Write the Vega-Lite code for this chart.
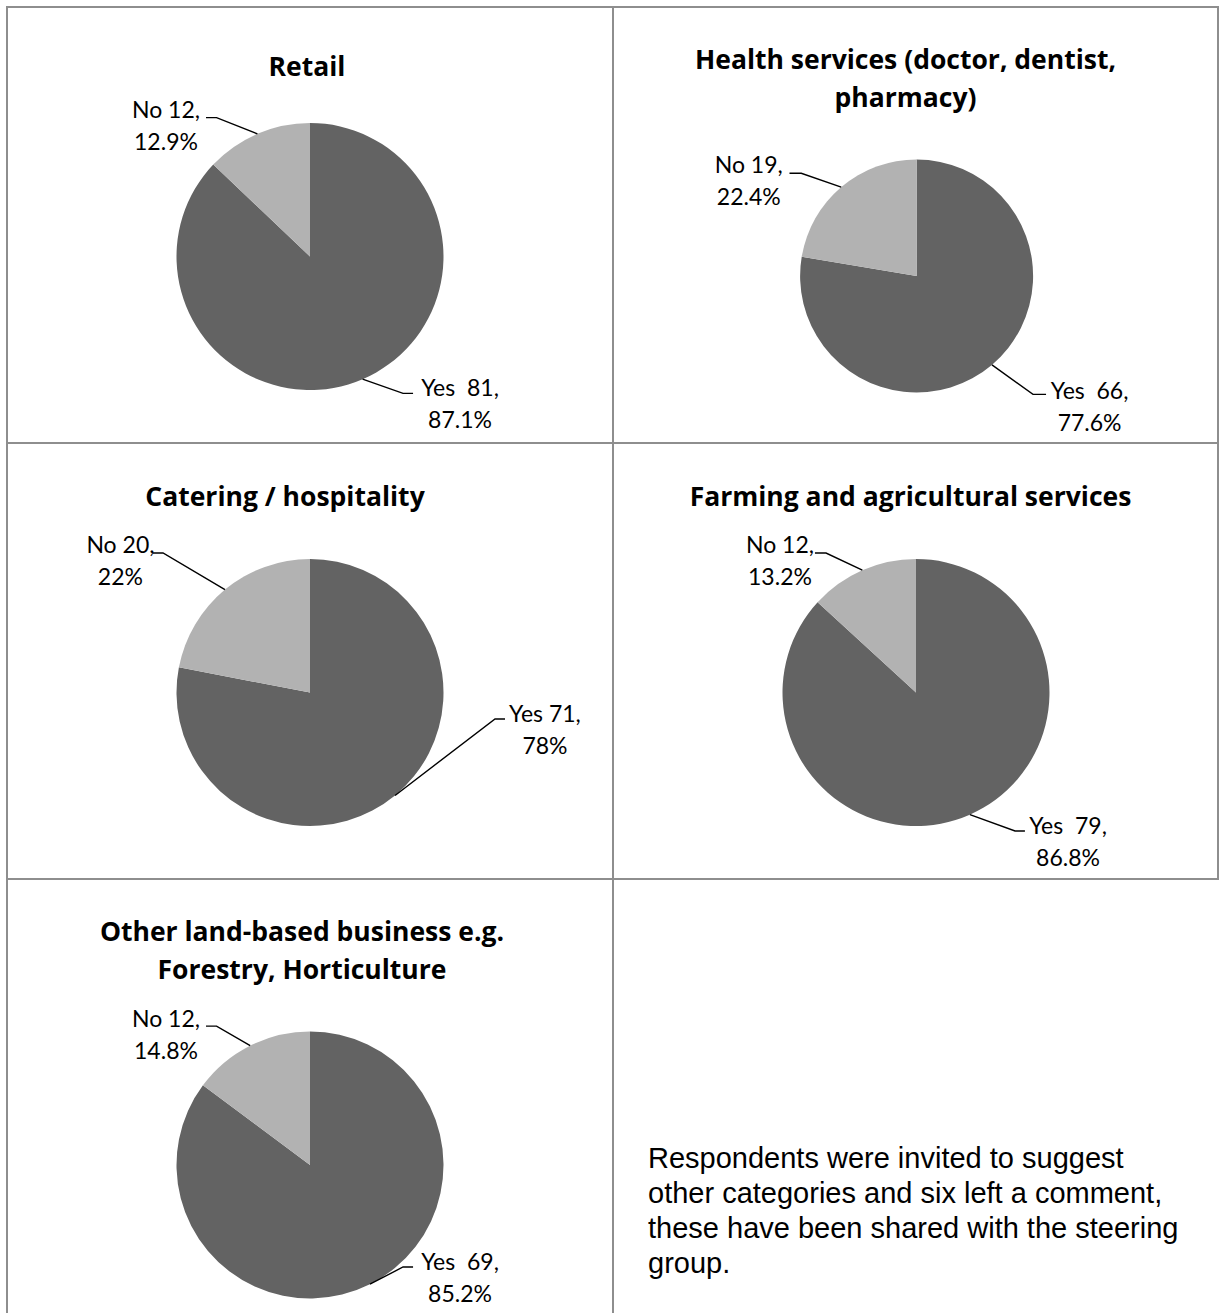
{
  "$schema": "https://vega.github.io/schema/vega-lite/v6.json",
  "padding": {"left": 6, "top": 6, "right": 0, "bottom": -3},
  "background": "white",
  "bounds": "flush",
  "spacing": 0,
  "columns": 2,
  "config": {
    "view": {"stroke": "#8e8e8e", "strokeWidth": 2},
    "concat": {"spacing": 0},
    "title": {"font": "Open Sans", "fontSize": 26.5, "fontWeight": "bold", "color": "#000000", "lineHeight": 38, "anchor": "middle", "frame": "group"},
    "text": {"font": "Lato", "fontSize": 23, "lineHeight": 32, "color": "#000000", "lineBreak": "\n", "align": "center", "baseline": "alphabetic"},
    "line": {"color": "#000000", "strokeWidth": 1.4},
    "arc": {"stroke": null}
  },
  "datasets": {
    "slices": [
      {"chart": "Retail", "answer": "Yes", "count": 81},
      {"chart": "Retail", "answer": "No", "count": 12},
      {"chart": "Health", "answer": "Yes", "count": 66},
      {"chart": "Health", "answer": "No", "count": 19},
      {"chart": "Catering", "answer": "Yes", "count": 71},
      {"chart": "Catering", "answer": "No", "count": 20},
      {"chart": "Farming", "answer": "Yes", "count": 79},
      {"chart": "Farming", "answer": "No", "count": 12},
      {"chart": "Other", "answer": "Yes", "count": 69},
      {"chart": "Other", "answer": "No", "count": 12}
    ],
    "labels": [
      {"chart": "Retail", "answer": "No", "label": "No 12,\n12.9%", "lx": -1.079, "ly": 1.035},
      {"chart": "Retail", "answer": "Yes", "label": "Yes\u00a0 81,\n87.1%", "lx": 1.124, "ly": -1.045},
      {"chart": "Health", "answer": "No", "label": "No 19,\n22.4%", "lx": -1.441, "ly": 0.887},
      {"chart": "Health", "answer": "Yes", "label": "Yes\u00a0 66,\n77.6%", "lx": 1.485, "ly": -1.058},
      {"chart": "Catering", "answer": "No", "label": "No 20,\n22%", "lx": -1.42, "ly": 1.045},
      {"chart": "Catering", "answer": "Yes", "label": "Yes 71,\n78%", "lx": 1.76, "ly": -0.221},
      {"chart": "Farming", "answer": "No", "label": "No 12,\n13.2%", "lx": -1.019, "ly": 1.045},
      {"chart": "Farming", "answer": "Yes", "label": "Yes\u00a0 79,\n86.8%", "lx": 1.139, "ly": -1.06},
      {"chart": "Other", "answer": "No", "label": "No 12,\n14.8%", "lx": -1.079, "ly": 1.035},
      {"chart": "Other", "answer": "Yes", "label": "Yes\u00a0 69,\n85.2%", "lx": 1.124, "ly": -0.787}
    ],
    "leaders": [
      {"chart": "Retail", "answer": "No", "step": 0, "lx": -0.394, "ly": 0.919},
      {"chart": "Retail", "answer": "No", "step": 1, "lx": -0.700, "ly": 1.040},
      {"chart": "Retail", "answer": "No", "step": 2, "lx": -0.779, "ly": 1.040},
      {"chart": "Retail", "answer": "Yes", "step": 0, "lx": 0.394, "ly": -0.919},
      {"chart": "Retail", "answer": "Yes", "step": 1, "lx": 0.697, "ly": -1.025},
      {"chart": "Retail", "answer": "Yes", "step": 2, "lx": 0.772, "ly": -1.025},
      {"chart": "Health", "answer": "No", "step": 0, "lx": -0.647, "ly": 0.763},
      {"chart": "Health", "answer": "No", "step": 1, "lx": -0.990, "ly": 0.882},
      {"chart": "Health", "answer": "No", "step": 2, "lx": -1.091, "ly": 0.882},
      {"chart": "Health", "answer": "Yes", "step": 0, "lx": 0.647, "ly": -0.763},
      {"chart": "Health", "answer": "Yes", "step": 1, "lx": 0.999, "ly": -1.016},
      {"chart": "Health", "answer": "Yes", "step": 2, "lx": 1.111, "ly": -1.016},
      {"chart": "Catering", "answer": "No", "step": 0, "lx": -0.637, "ly": 0.771},
      {"chart": "Catering", "answer": "No", "step": 1, "lx": -1.101, "ly": 1.045},
      {"chart": "Catering", "answer": "No", "step": 2, "lx": -1.176, "ly": 1.045},
      {"chart": "Catering", "answer": "Yes", "step": 0, "lx": 0.637, "ly": -0.771},
      {"chart": "Catering", "answer": "Yes", "step": 1, "lx": 1.386, "ly": -0.198},
      {"chart": "Catering", "answer": "Yes", "step": 2, "lx": 1.461, "ly": -0.198},
      {"chart": "Farming", "answer": "No", "step": 0, "lx": -0.402, "ly": 0.916},
      {"chart": "Farming", "answer": "No", "step": 1, "lx": -0.674, "ly": 1.045},
      {"chart": "Farming", "answer": "No", "step": 2, "lx": -0.757, "ly": 1.045},
      {"chart": "Farming", "answer": "Yes", "step": 0, "lx": 0.404, "ly": -0.915},
      {"chart": "Farming", "answer": "Yes", "step": 1, "lx": 0.742, "ly": -1.037},
      {"chart": "Farming", "answer": "Yes", "step": 2, "lx": 0.816, "ly": -1.037},
      {"chart": "Other", "answer": "No", "step": 0, "lx": -0.448, "ly": 0.894},
      {"chart": "Other", "answer": "No", "step": 1, "lx": -0.700, "ly": 1.040},
      {"chart": "Other", "answer": "No", "step": 2, "lx": -0.779, "ly": 1.040},
      {"chart": "Other", "answer": "Yes", "step": 0, "lx": 0.449, "ly": -0.893},
      {"chart": "Other", "answer": "Yes", "step": 1, "lx": 0.697, "ly": -0.764},
      {"chart": "Other", "answer": "Yes", "step": 2, "lx": 0.772, "ly": -0.764}
    ]
  },
  "concat": [
    {
      "width": 606, "height": 436,
      "title": {"text": "Retail", "offset": -74, "dx": -3},
      "layer": [
        {"data": {"name": "slices"}, "transform": [{"filter": "datum.chart === 'Retail'"}],
         "mark": {"type": "arc", "outerRadius": 133.5},
         "encoding": {
           "theta": {"field": "count", "type": "quantitative", "stack": true},
           "order": {"field": "answer", "sort": "descending"},
           "color": {"field": "answer", "type": "nominal", "scale": {"domain": ["Yes", "No"], "range": ["#636363", "#b2b2b2"]}, "legend": null},
           "x": {"datum": 0, "type": "quantitative", "scale": {"domain": [-2.2697, 2.2697], "nice": false, "zero": false}, "axis": null},
           "y": {"datum": 0, "type": "quantitative", "scale": {"domain": [-1.397, 1.869], "nice": false, "zero": false}, "axis": null}
         }},
        {"data": {"name": "leaders"}, "transform": [{"filter": "datum.chart === 'Retail'"}],
         "mark": "line",
         "encoding": {
           "x": {"field": "lx", "type": "quantitative", "scale": {"domain": [-2.2697, 2.2697], "nice": false, "zero": false}, "axis": null},
           "y": {"field": "ly", "type": "quantitative", "scale": {"domain": [-1.397, 1.869], "nice": false, "zero": false}, "axis": null},
           "detail": {"field": "answer", "type": "nominal"},
           "order": {"field": "step", "type": "quantitative"}
         }},
        {"data": {"name": "labels"}, "transform": [{"filter": "datum.chart === 'Retail'"}],
         "mark": "text",
         "encoding": {
           "x": {"field": "lx", "type": "quantitative", "scale": {"domain": [-2.2697, 2.2697], "nice": false, "zero": false}, "axis": null},
           "y": {"field": "ly", "type": "quantitative", "scale": {"domain": [-1.397, 1.869], "nice": false, "zero": false}, "axis": null},
           "text": {"field": "label", "type": "nominal"}
         }}
      ]
    },
    {
      "width": 605, "height": 436,
      "title": {"text": ["Health services (doctor, dentist,", "pharmacy)"], "offset": -105, "dx": -10},
      "layer": [
        {"data": {"name": "slices"}, "transform": [{"filter": "datum.chart === 'Health'"}],
         "mark": {"type": "arc", "outerRadius": 116.5},
         "encoding": {
           "theta": {"field": "count", "type": "quantitative", "stack": true},
           "order": {"field": "answer", "sort": "descending"},
           "color": {"field": "answer", "type": "nominal", "scale": {"domain": ["Yes", "No"], "range": ["#636363", "#b2b2b2"]}, "legend": null},
           "x": {"datum": 0, "type": "quantitative", "scale": {"domain": [-2.606, 2.587], "nice": false, "zero": false}, "axis": null},
           "y": {"datum": 0, "type": "quantitative", "scale": {"domain": [-1.4335, 2.309], "nice": false, "zero": false}, "axis": null}
         }},
        {"data": {"name": "leaders"}, "transform": [{"filter": "datum.chart === 'Health'"}],
         "mark": "line",
         "encoding": {
           "x": {"field": "lx", "type": "quantitative", "scale": {"domain": [-2.606, 2.587], "nice": false, "zero": false}, "axis": null},
           "y": {"field": "ly", "type": "quantitative", "scale": {"domain": [-1.4335, 2.309], "nice": false, "zero": false}, "axis": null},
           "detail": {"field": "answer", "type": "nominal"},
           "order": {"field": "step", "type": "quantitative"}
         }},
        {"data": {"name": "labels"}, "transform": [{"filter": "datum.chart === 'Health'"}],
         "mark": "text",
         "encoding": {
           "x": {"field": "lx", "type": "quantitative", "scale": {"domain": [-2.606, 2.587], "nice": false, "zero": false}, "axis": null},
           "y": {"field": "ly", "type": "quantitative", "scale": {"domain": [-1.4335, 2.309], "nice": false, "zero": false}, "axis": null},
           "text": {"field": "label", "type": "nominal"}
         }}
      ]
    },
    {
      "width": 606, "height": 436,
      "title": {"text": "Catering / hospitality", "offset": -68, "dx": -25},
      "layer": [
        {"data": {"name": "slices"}, "transform": [{"filter": "datum.chart === 'Catering'"}],
         "mark": {"type": "arc", "outerRadius": 133.5},
         "encoding": {
           "theta": {"field": "count", "type": "quantitative", "stack": true},
           "order": {"field": "answer", "sort": "descending"},
           "color": {"field": "answer", "type": "nominal", "scale": {"domain": ["Yes", "No"], "range": ["#636363", "#b2b2b2"]}, "legend": null},
           "x": {"datum": 0, "type": "quantitative", "scale": {"domain": [-2.2697, 2.2697], "nice": false, "zero": false}, "axis": null},
           "y": {"datum": 0, "type": "quantitative", "scale": {"domain": [-1.397, 1.869], "nice": false, "zero": false}, "axis": null}
         }},
        {"data": {"name": "leaders"}, "transform": [{"filter": "datum.chart === 'Catering'"}],
         "mark": "line",
         "encoding": {
           "x": {"field": "lx", "type": "quantitative", "scale": {"domain": [-2.2697, 2.2697], "nice": false, "zero": false}, "axis": null},
           "y": {"field": "ly", "type": "quantitative", "scale": {"domain": [-1.397, 1.869], "nice": false, "zero": false}, "axis": null},
           "detail": {"field": "answer", "type": "nominal"},
           "order": {"field": "step", "type": "quantitative"}
         }},
        {"data": {"name": "labels"}, "transform": [{"filter": "datum.chart === 'Catering'"}],
         "mark": "text",
         "encoding": {
           "x": {"field": "lx", "type": "quantitative", "scale": {"domain": [-2.2697, 2.2697], "nice": false, "zero": false}, "axis": null},
           "y": {"field": "ly", "type": "quantitative", "scale": {"domain": [-1.397, 1.869], "nice": false, "zero": false}, "axis": null},
           "text": {"field": "label", "type": "nominal"}
         }}
      ]
    },
    {
      "width": 605, "height": 436,
      "title": {"text": "Farming and agricultural services", "offset": -68, "dx": -5},
      "layer": [
        {"data": {"name": "slices"}, "transform": [{"filter": "datum.chart === 'Farming'"}],
         "mark": {"type": "arc", "outerRadius": 133.5},
         "encoding": {
           "theta": {"field": "count", "type": "quantitative", "stack": true},
           "order": {"field": "answer", "sort": "descending"},
           "color": {"field": "answer", "type": "nominal", "scale": {"domain": ["Yes", "No"], "range": ["#636363", "#b2b2b2"]}, "legend": null},
           "x": {"datum": 0, "type": "quantitative", "scale": {"domain": [-2.2697, 2.2622], "nice": false, "zero": false}, "axis": null},
           "y": {"datum": 0, "type": "quantitative", "scale": {"domain": [-1.397, 1.869], "nice": false, "zero": false}, "axis": null}
         }},
        {"data": {"name": "leaders"}, "transform": [{"filter": "datum.chart === 'Farming'"}],
         "mark": "line",
         "encoding": {
           "x": {"field": "lx", "type": "quantitative", "scale": {"domain": [-2.2697, 2.2622], "nice": false, "zero": false}, "axis": null},
           "y": {"field": "ly", "type": "quantitative", "scale": {"domain": [-1.397, 1.869], "nice": false, "zero": false}, "axis": null},
           "detail": {"field": "answer", "type": "nominal"},
           "order": {"field": "step", "type": "quantitative"}
         }},
        {"data": {"name": "labels"}, "transform": [{"filter": "datum.chart === 'Farming'"}],
         "mark": "text",
         "encoding": {
           "x": {"field": "lx", "type": "quantitative", "scale": {"domain": [-2.2697, 2.2622], "nice": false, "zero": false}, "axis": null},
           "y": {"field": "ly", "type": "quantitative", "scale": {"domain": [-1.397, 1.869], "nice": false, "zero": false}, "axis": null},
           "text": {"field": "label", "type": "nominal"}
         }}
      ]
    },
    {
      "width": 606, "height": 436,
      "title": {"text": ["Other land-based business e.g.", "Forestry, Horticulture"], "offset": -105, "dx": -8},
      "layer": [
        {"data": {"name": "slices"}, "transform": [{"filter": "datum.chart === 'Other'"}],
         "mark": {"type": "arc", "outerRadius": 133.5},
         "encoding": {
           "theta": {"field": "count", "type": "quantitative", "stack": true},
           "order": {"field": "answer", "sort": "descending"},
           "color": {"field": "answer", "type": "nominal", "scale": {"domain": ["Yes", "No"], "range": ["#636363", "#b2b2b2"]}, "legend": null},
           "x": {"datum": 0, "type": "quantitative", "scale": {"domain": [-2.2697, 2.2697], "nice": false, "zero": false}, "axis": null},
           "y": {"datum": 0, "type": "quantitative", "scale": {"domain": [-1.1236, 2.142], "nice": false, "zero": false}, "axis": null}
         }},
        {"data": {"name": "leaders"}, "transform": [{"filter": "datum.chart === 'Other'"}],
         "mark": "line",
         "encoding": {
           "x": {"field": "lx", "type": "quantitative", "scale": {"domain": [-2.2697, 2.2697], "nice": false, "zero": false}, "axis": null},
           "y": {"field": "ly", "type": "quantitative", "scale": {"domain": [-1.1236, 2.142], "nice": false, "zero": false}, "axis": null},
           "detail": {"field": "answer", "type": "nominal"},
           "order": {"field": "step", "type": "quantitative"}
         }},
        {"data": {"name": "labels"}, "transform": [{"filter": "datum.chart === 'Other'"}],
         "mark": "text",
         "encoding": {
           "x": {"field": "lx", "type": "quantitative", "scale": {"domain": [-2.2697, 2.2697], "nice": false, "zero": false}, "axis": null},
           "y": {"field": "ly", "type": "quantitative", "scale": {"domain": [-1.1236, 2.142], "nice": false, "zero": false}, "axis": null},
           "text": {"field": "label", "type": "nominal"}
         }}
      ]
    },
    {
      "width": 605, "height": 436,
      "title": {"text": ["Respondents were invited to suggest", "other categories and six left a comment,", "these have been shared with the steering", "group."], "anchor": "start", "align": "left", "dx": 35, "offset": -400, "font": "Liberation Sans", "fontSize": 29, "fontWeight": "normal", "lineHeight": 35},
      "data": {"values": [{"note": ""}]},
      "mark": {"type": "text"},
      "encoding": {"text": {"field": "note", "type": "nominal"}}
    }
  ]
}
